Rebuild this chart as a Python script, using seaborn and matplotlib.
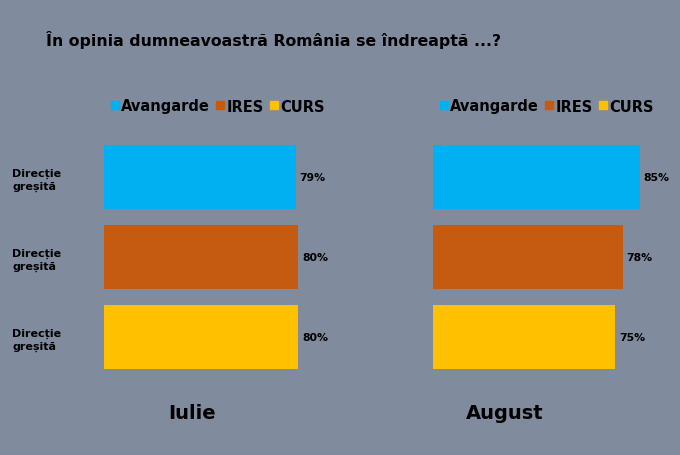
import pandas as pd
import numpy as np
import matplotlib.pyplot as plt
import seaborn as sns
from matplotlib.lines import Line2D

title = "În opinia dumneavoastră România se îndreaptă ...?"
sources = ["Avangarde", "IRES", "CURS"]
colors = ["#00b0f0", "#c55a11", "#ffc000"]
months = ["Iulie", "August"]
iulie = [79, 80, 80]
august = [85, 78, 75]
row_label = "Direcție\ngreșită"

bg = "#808b9e"

df = pd.DataFrame({
    "Luna": np.repeat(months, len(sources)),
    "Sursa": sources * len(months),
    "Procent": iulie + august,
})

sns.set_theme(style="white")
plt.rcParams['font.family'] = ['DejaVu Sans']

fig = plt.figure(figsize=(6.8, 4.56), dpi=100)
fig.patch.set_facecolor(bg)

W, H = 680, 456
ax_left = [104, 433]
ax_w = 243
top, bottom = 138, 378

for i, month in enumerate(months):
    ax = fig.add_axes([ax_left[i] / W, (H - bottom) / H, ax_w / W, (bottom - top) / H])
    ax.set_facecolor(bg)
    sub = df[df["Luna"] == month]
    sns.barplot(data=sub, x="Procent", y="Sursa", hue="Sursa", palette=colors,
                order=sources, hue_order=sources, width=0.8, legend=False,
                saturation=1, linewidth=0, ax=ax)
    ax.set_xlim(0, 100)
    ax.set_ylim(2.5, -0.5)
    for spine in ax.spines.values():
        spine.set_visible(False)
    ax.set_xticks([])
    ax.set_xlabel("")
    ax.set_ylabel("")
    for j, v in enumerate(sub["Procent"]):
        ax.text(v + 1.5, j, f"{v}%", va="center", ha="left",
                fontsize=7.8, fontweight="bold", color="black")
    if i == 0:
        ax.set_yticks(range(len(sources)))
        ax.set_yticklabels([row_label] * len(sources), ha="left",
                           fontsize=8, fontweight="bold", color="black",
                           linespacing=1.3)
        ax.tick_params(axis="y", length=0, pad=66)
    else:
        ax.set_yticks([])

    handles = [Line2D([0], [0], marker="s", linestyle="", markersize=6,
                      markerfacecolor=c, markeredgecolor=c) for c in colors]
    leg = fig.legend(handles, sources, loc="center",
                     bbox_to_anchor=((ax_left[i] + 114) / W, (H - 107) / H),
                     ncol=3, frameon=False, handlelength=0.5, handletextpad=0.15,
                     columnspacing=0.5, prop={"weight": "bold", "size": 10.5})
    for t in leg.get_texts():
        t.set_color("black")

    fig.text((ax_left[i] + 88) / W if i == 0 else (ax_left[i] + 72) / W,
             (H - 414) / H, month, ha="center", va="center",
             fontsize=14, fontweight="bold", color="black")

fig.text(46 / W, (H - 40) / H, title, ha="left", va="center",
         fontsize=11.3, fontweight="bold", color="black")

fig.savefig("out.png", dpi=100, facecolor=bg)
